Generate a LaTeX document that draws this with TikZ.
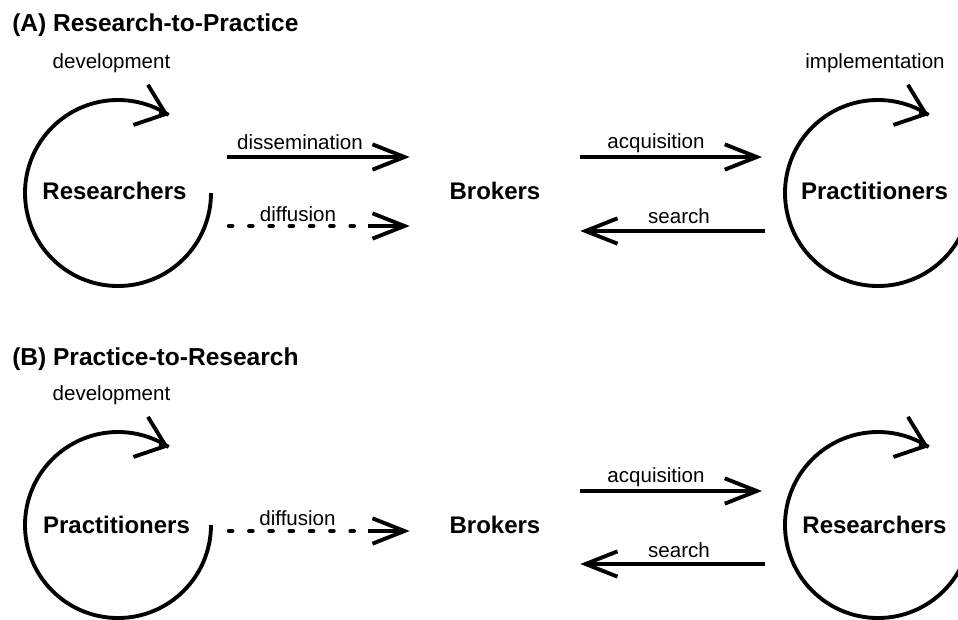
\documentclass[tikz,border=0pt]{standalone}
\usepackage{fontspec}
\setmainfont{Liberation Sans}
\usetikzlibrary{arrows.meta,calc}
\begin{document}
\begin{tikzpicture}[x=0.75pt,y=-0.75pt,
  ttl/.style={font=\bfseries\fontsize{18.4}{20}\selectfont, anchor=base west, inner sep=0pt},
  actor/.style={font=\bfseries\fontsize{18}{20}\selectfont, anchor=base, inner sep=0pt},
  lbl/.style={font=\fontsize{15.4}{18}\selectfont, anchor=base, inner sep=0pt},
  hub/.style={font=\bfseries\fontsize{18}{20}\selectfont, anchor=base, minimum width=127.5pt, inner sep=0pt},
  flow/.style={line width=2.9pt, -{Straight Barb[length=24pt,width=19pt,sharp]}},
  dotline/.style={line width=3.3pt, line cap=round, dash pattern=on 2.4pt off 12.8pt},
  loopline/.style={line width=2.9pt},
  loophead/.style={line width=2.9pt, -{Straight Barb[length=20pt,width=32pt,sharp]}}]
\useasboundingbox (0,0) rectangle (958,619);
\clip (0,0) rectangle (958,619);

% ---------- Panel A ----------
\node[ttl] (ttlA) at (12,31) {(A) Research-to-Practice};
\node[lbl] (devA) at (111.5,68) {development};
\node[lbl] (impA) at (875,68) {implementation};
\node[actor] (resA) at (114.5,199) {Researchers};
\node[hub] (brkA) at (495,199) {Brokers};
\node[actor] (praA) at (874.5,199) {Practitioners};
\node[lbl] (dissLA) at (300,149) {dissemination};
\node[lbl] (diffLA) at (298,221) {diffusion};
\node[lbl] (acqLA) at (656,148) {acquisition};
\node[lbl] (srchLA) at (679,223) {search};

\coordinate (cLA) at (118,193);
\coordinate (cRA) at (878,193);
\draw[loopline] ($(cLA)+(93,0)$) arc[start angle=0, end angle=303, radius=93] coordinate (tLA);
\draw[loophead] ($(tLA)+(-9.4,-3.4)$) -- (tLA);
\draw[loopline] ($(cRA)+(93,0)$) arc[start angle=0, end angle=303, radius=93] coordinate (tRA);
\draw[loophead] ($(tRA)+(-9.4,-3.4)$) -- (tRA);

\coordinate (dissA) at (227,157);
\coordinate (diffA) at (229,226);
\coordinate (acqA) at (762,157);
\coordinate (srchA) at (765,231);
\draw[flow] (dissA) -- (dissA -| brkA.west);
\draw[dotline] (diffA) -- ($(diffA -| brkA.west)+(-52,0)$);
\draw[flow] ($(diffA -| brkA.west)+(-42,0)$) -- (diffA -| brkA.west);
\draw[flow] (acqA -| brkA.east) -- (acqA);
\draw[flow] (srchA) -- (srchA -| brkA.east);

% ---------- Panel B ----------
\node[ttl] (ttlB) at (12,365) {(B) Practice-to-Research};
\node[lbl] (devB) at (111.5,400) {development};
\node[actor] (praB) at (116.5,533) {Practitioners};
\node[hub] (brkB) at (495,533) {Brokers};
\node[actor] (resB) at (874.5,533) {Researchers};
\node[lbl] (diffLB) at (297.5,525) {diffusion};
\node[lbl] (acqLB) at (656,482) {acquisition};
\node[lbl] (srchLB) at (679,557) {search};

\coordinate (cLB) at (118,525);
\coordinate (cRB) at (878,525);
\draw[loopline] ($(cLB)+(93,0)$) arc[start angle=0, end angle=303, radius=93] coordinate (tLB);
\draw[loophead] ($(tLB)+(-9.4,-3.4)$) -- (tLB);
\draw[loopline] ($(cRB)+(93,0)$) arc[start angle=0, end angle=303, radius=93] coordinate (tRB);
\draw[loophead] ($(tRB)+(-9.4,-3.4)$) -- (tRB);

\coordinate (diffB) at (229,531);
\coordinate (acqB) at (762,491);
\coordinate (srchB) at (765,564);
\draw[dotline] (diffB) -- ($(diffB -| brkB.west)+(-52,0)$);
\draw[flow] ($(diffB -| brkB.west)+(-42,0)$) -- (diffB -| brkB.west);
\draw[flow] (acqB -| brkB.east) -- (acqB);
\draw[flow] (srchB) -- (srchB -| brkB.east);
\end{tikzpicture}
\end{document}
